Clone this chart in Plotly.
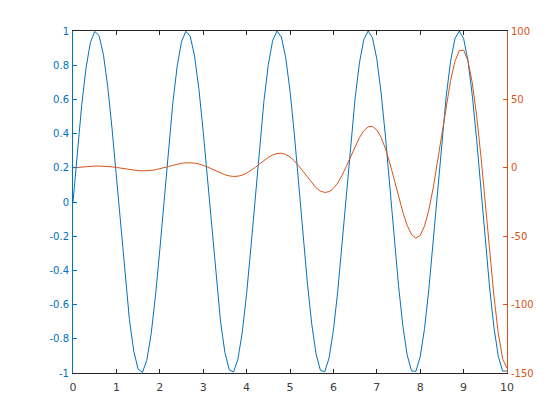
import plotly.graph_objects as go

x = [0.0, 0.1, 0.2, 0.3, 0.4, 0.5, 0.6, 0.7, 0.8, 0.9,
     1.0, 1.1, 1.2, 1.3, 1.4, 1.5, 1.6, 1.7, 1.8, 1.9,
     2.0, 2.1, 2.2, 2.3, 2.4, 2.5, 2.6, 2.7, 2.8, 2.9,
     3.0, 3.1, 3.2, 3.3, 3.4, 3.5, 3.6, 3.7, 3.8, 3.9,
     4.0, 4.1, 4.2, 4.3, 4.4, 4.5, 4.6, 4.7, 4.8, 4.9,
     5.0, 5.1, 5.2, 5.3, 5.4, 5.5, 5.6, 5.7, 5.8, 5.9,
     6.0, 6.1, 6.2, 6.3, 6.4, 6.5, 6.6, 6.7, 6.8, 6.9,
     7.0, 7.1, 7.2, 7.3, 7.4, 7.5, 7.6, 7.7, 7.8, 7.9,
     8.0, 8.1, 8.2, 8.3, 8.4, 8.5, 8.6, 8.7, 8.8, 8.9,
     9.0, 9.1, 9.2, 9.3, 9.4, 9.5, 9.6, 9.7, 9.8, 9.9,
     10.0]

y_left = [0.0, 0.2955, 0.5646, 0.7833, 0.9320, 0.9975, 0.9738, 0.8632, 0.6755, 0.4274,
          0.1411, -0.1577, -0.4425, -0.6878, -0.8716, -0.9775, -0.9962, -0.9258, -0.7728, -0.5507,
          -0.2794, 0.0168, 0.3115, 0.5784, 0.7937, 0.9380, 0.9985, 0.9699, 0.8546, 0.6630,
          0.4121, 0.1245, -0.1743, -0.4575, -0.6999, -0.8797, -0.9809, -0.9946, -0.9193, -0.7620,
          -0.5366, -0.2632, 0.0336, 0.3275, 0.5921, 0.8038, 0.9437, 0.9993, 0.9657, 0.8457,
          0.6503, 0.3967, 0.1078, -0.1909, -0.4724, -0.7118, -0.8876, -0.9841, -0.9927, -0.9127,
          -0.7510, -0.5223, -0.2470, 0.0504, 0.3433, 0.6055, 0.8137, 0.9491, 0.9998, 0.9612,
          0.8367, 0.6376, 0.3813, 0.0910, -0.2073, -0.4872, -0.7235, -0.8954, -0.9869, -0.9905,
          -0.9056, -0.7398, -0.5079, -0.2306, 0.0672, 0.3590, 0.6189, 0.8234, 0.9543, 1.0000,
          0.9564, 0.8274, 0.6247, 0.3656, 0.0743, -0.2236, -0.5018, -0.7350, -0.9030, -0.9893,
          -0.9880]

y_right = [0.0, 0.311, 0.624, 0.910, 1.138, 1.281, 1.315, 1.225, 1.008, 0.670,
           0.233, -0.273, -0.806, -1.318, -1.755, -2.069, -2.217, -2.166, -1.901, -1.424,
           -0.760, 0.048, 0.936, 1.827, 2.635, 3.274, 3.664, 3.741, 3.466, 2.826,
           1.847, 0.587, -0.863, -2.382, -3.831, -5.062, -5.934, -6.326, -6.146, -5.356,
           -3.965, -2.045, 0.274, 2.812, 5.344, 7.626, 9.413, 10.478, 10.645, 9.800,
           7.922, 5.081, 1.451, -2.702, -7.029, -11.134, -14.596, -17.013, -18.041, -17.438,
           -15.084, -11.029, -5.483, 1.176, 8.422, 15.616, 22.062, 27.052, 29.958, 30.278,
           27.708, 22.197, 13.955, 3.501, -8.385, -20.716, -32.341, -42.078, -48.755, -51.442,
           -49.444, -42.463, -30.647, -14.628, 4.481, 25.168, 45.613, 63.796, 77.729, 85.627,
           86.092, 78.299, 62.148, 38.236, 8.169, -25.845, -60.974, -93.889, -121.264, -139.664,
           -146.632]

x_ticks = [0, 1, 2, 3, 4, 5, 6, 7, 8, 9, 10]
left_ticks = [-1, -0.8, -0.6, -0.4, -0.2, 0, 0.2, 0.4, 0.6, 0.8, 1]
left_labels = ["-1", "-0.8", "-0.6", "-0.4", "-0.2", "0", "0.2", "0.4", "0.6", "0.8", "1"]
right_ticks = [-150, -100, -50, 0, 50, 100]
right_labels = ["-150", "-100", "-50", "0", "50", "100"]

BLUE = "#0072BD"
RED = "#D95319"
DARK = "#262626"
LABEL = "#404040"
FONT = "DejaVu Sans"

fig = go.Figure()
fig.add_trace(go.Scatter(x=x, y=y_left, mode="lines",
                         line=dict(color=BLUE, width=1), yaxis="y"))
fig.add_trace(go.Scatter(x=x, y=y_right, mode="lines",
                         line=dict(color=RED, width=1), yaxis="y2"))

fig.update_layout(
    width=560, height=420,
    margin=dict(l=65, r=61, t=23, b=55),
    paper_bgcolor="white", plot_bgcolor="white",
    showlegend=False,
    font=dict(family=FONT, size=10, color=DARK),
    xaxis=dict(range=[0, 10], tickvals=x_ticks, ticktext=[str(t) for t in x_ticks],
               showgrid=False, zeroline=False, showline=True, linecolor=DARK,
               linewidth=1, mirror="ticks", ticks="inside", ticklen=4,
               ticklabelstandoff=4,
               tickcolor=DARK, tickfont=dict(family=FONT, size=11, color=LABEL)),
    yaxis=dict(range=[-1, 1], tickvals=left_ticks, ticktext=left_labels,
               showgrid=False, zeroline=False, showline=True, linecolor=BLUE,
               linewidth=1, ticks="inside", ticklen=4, tickcolor=BLUE,
               ticklabelstandoff=1,
               tickfont=dict(family=FONT, size=10, color=BLUE)),
    yaxis2=dict(range=[-150, 100], tickvals=right_ticks, ticktext=right_labels,
                overlaying="y", side="right",
                showgrid=False, zeroline=False, showline=True, linecolor=RED,
                linewidth=1, ticks="inside", ticklen=4, tickcolor=RED,
                ticklabelstandoff=1,
                tickfont=dict(family=FONT, size=10, color=RED)),
)

fig.write_html("out.html")
